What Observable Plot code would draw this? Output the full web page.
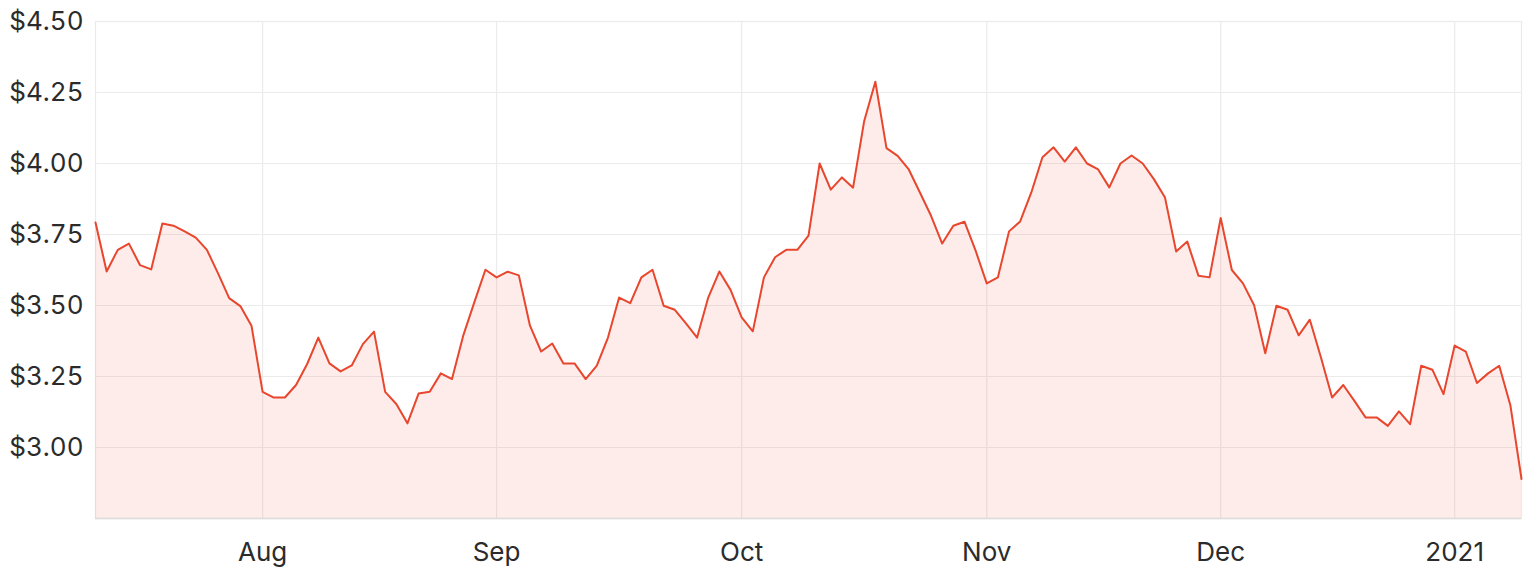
<!DOCTYPE html>
<html>
<head>
<meta charset="utf-8">
<script src="https://cdn.jsdelivr.net/npm/d3@7"></script>
<script src="https://cdn.jsdelivr.net/npm/@observablehq/plot@0.6"></script>
<style>
  html, body { margin: 0; padding: 0; background: #fff; }
  #chart { width: 1530px; height: 574px; }
</style>
</head>
<body>
<div id="chart"></div>
<script>
// Trading days (ASX) per month
const jul2020 = [13,14,15,16,17,20,21,22,23,24,27,28,29,30,31];
const aug2020 = [3,4,5,6,7,10,11,12,13,14,17,18,19,20,21,24,25,26,27,28,31];
const sep2020 = [1,2,3,4,7,8,9,10,11,14,15,16,17,18,21,22,23,24,25,28,29,30];
const oct2020 = [1,2,5,6,7,8,9,12,13,14,15,16,19,20,21,22,23,26,27,28,29,30];
const nov2020 = [2,3,4,5,6,9,10,11,12,13,16,17,18,19,20,23,24,25,26,27,30];
const dec2020 = [1,2,3,4,7,8,9,10,11,14,15,16,17,18,21,22,23,24,29,30,31];
const jan2021 = [4,5,6,7,8,11,12];

// Closing prices
const prices = [
  3.792,3.620,3.696,3.718,3.642,3.627,3.789,3.781,3.761,3.739,3.696,3.613,3.526,3.498,3.429,
  3.196,3.176,3.176,3.220,3.294,3.387,3.296,3.268,3.289,3.364,3.408,3.196,3.153,3.085,3.190,3.196,3.261,3.241,3.393,3.511,3.626,
  3.599,3.619,3.606,3.429,3.338,3.366,3.296,3.296,3.241,3.288,3.387,3.528,3.508,3.599,3.626,3.499,3.485,3.437,3.387,3.528,3.620,3.555,
  3.458,3.409,3.599,3.670,3.696,3.696,3.746,4.000,3.908,3.951,3.915,4.150,4.288,4.054,4.027,3.979,3.898,3.816,3.718,3.781,3.795,3.693,
  3.578,3.599,3.761,3.796,3.898,4.022,4.057,4.007,4.057,4.000,3.979,3.916,4.000,4.028,4.000,3.945,3.880,3.690,3.725,3.605,3.599,
  3.808,3.625,3.578,3.501,3.332,3.499,3.485,3.395,3.450,3.317,3.176,3.220,3.164,3.106,3.106,3.076,3.127,3.082,3.288,3.274,3.188,
  3.359,3.338,3.227,3.261,3.288,3.149,2.889
];

// Axis ticks
const xTickDates = ["2020-08-03","2020-09-01","2020-10-01","2020-11-02","2020-12-01","2021-01-04"];
const xTickLabels = ["Aug","Sep","Oct","Nov","Dec","2021"];
const yTicks = [3.00, 3.25, 3.50, 3.75, 4.00, 4.25, 4.50];
const yDomain = [2.75, 4.50];

const pad = n => String(n).padStart(2, "0");
const months = [
  ["2020-07", jul2020], ["2020-08", aug2020], ["2020-09", sep2020],
  ["2020-10", oct2020], ["2020-11", nov2020], ["2020-12", dec2020], ["2021-01", jan2021]
];
const dates = months.flatMap(([ym, days]) => days.map(d => `${ym}-${pad(d)}`));
const data = dates.map((d, i) => ({date: d, price: prices[i]}));

const lineColor = "#e8462d";

const chart = Plot.plot({
  width: 1530,
  height: 574,
  marginTop: 21,
  marginBottom: 56,
  marginLeft: 95,
  marginRight: 9,
  style: {
    fontSize: "26px",
    fontFamily: "Inter, sans-serif",
    color: "#2b2b2b",
    background: "#fff",
    overflow: "visible"
  },
  x: {
    type: "point",
    domain: dates,
    padding: 0,
    round: false,
    ticks: xTickDates,
    tickFormat: d => xTickLabels[xTickDates.indexOf(d)],
    tickSize: 0,
    tickPadding: 24,
    label: null
  },
  y: {
    domain: yDomain,
    ticks: yTicks,
    tickFormat: d => "$" + d.toFixed(2),
    tickSize: 0,
    tickPadding: 12,
    label: null
  },
  marks: [
    Plot.ruleY(yTicks, {stroke: "#ebebeb", strokeWidth: 1.2}),
    Plot.ruleX(xTickDates, {stroke: "#ebebeb", strokeWidth: 1.2}),
    Plot.frame({stroke: "#ebebeb", strokeWidth: 1.2}),
    Plot.areaY(data, {x: "date", y1: () => yDomain[0], y2: "price", fill: lineColor, fillOpacity: 0.1}),
    Plot.ruleY([yDomain[0]], {stroke: "#dcdcdc", strokeWidth: 1.5}),
    Plot.lineY(data, {x: "date", y: "price", stroke: lineColor, strokeWidth: 2})
  ]
});

document.getElementById("chart").appendChild(chart);
</script>
</body>
</html>
